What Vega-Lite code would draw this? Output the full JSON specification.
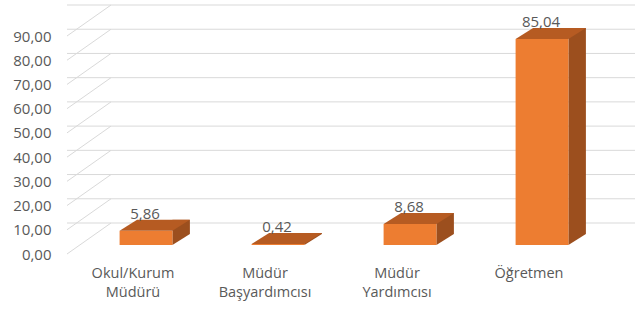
{
  "$schema": "https://vega.github.io/schema/vega-lite/v6.json",
  "width": 528,
  "height": 218,
  "autosize": {"type": "none"},
  "padding": {"left": 67, "top": 36, "right": 40, "bottom": 56},
  "config": {
    "view": {"stroke": null},
    "font": "Open Sans",
    "locale": {"number": {"decimal": ",", "thousands": ".", "grouping": [3], "currency": ["", " ₺"]}},
    "axisY": {"title": null, "domain": false, "ticks": false, "grid": false, "format": ".2f", "tickCount": 10, "labelFont": "Open Sans", "labelFontSize": 15, "labelColor": "#595959", "labelPadding": 16},
    "axisX": {"title": null, "domain": false, "ticks": false, "grid": false, "labelAngle": 0, "labelFont": "Open Sans", "labelFontSize": 14.5, "labelColor": "#595959", "labelPadding": 12, "labelLineHeight": 19}
  },
  "datasets": {
    "kadro": [
      {"kategori": "Okul/Kurum Müdürü", "yuzde": 5.86},
      {"kategori": "Müdür Başyardımcısı", "yuzde": 0.42},
      {"kategori": "Müdür Yardımcısı", "yuzde": 8.68},
      {"kategori": "Öğretmen", "yuzde": 85.04}
    ],
    "izgara": [
      {"deger": 0}, {"deger": 10}, {"deger": 20}, {"deger": 30}, {"deger": 40},
      {"deger": 50}, {"deger": 60}, {"deger": 70}, {"deger": 80}, {"deger": 90}
    ]
  },
  "layer": [
    {
      "data": {"name": "izgara"},
      "mark": {"type": "rule", "y2Offset": -31, "color": "#D9D9D9", "strokeWidth": 1},
      "encoding": {
        "x": {"value": 0},
        "x2": {"value": 44},
        "y": {"field": "deger", "type": "quantitative", "scale": {"domain": [0, 90], "nice": false}},
        "y2": {"field": "deger"}
      }
    },
    {
      "data": {"name": "izgara"},
      "mark": {"type": "rule", "xOffset": 44, "x2Offset": 44, "yOffset": -31, "color": "#D9D9D9", "strokeWidth": 1},
      "encoding": {
        "y": {"field": "deger", "type": "quantitative"}
      }
    },
    {
      "data": {"name": "kadro"},
      "layer": [
        {
          "mark": {"type": "bar", "color": "#9C4F1E", "width": 17.5, "xOffset": 48.15, "yOffset": -20, "y2Offset": -20},
          "encoding": {
            "x": {"field": "kategori", "type": "nominal", "sort": null, "scale": {"paddingInner": 0.6, "paddingOuter": 0.3}, "axis": {"labelExpr": "split(datum.label, ' ')"}},
            "y": {"field": "yuzde", "type": "quantitative"}
          }
        },
        {
          "mark": {"type": "point", "filled": true, "opacity": 1, "size": 4, "strokeWidth": 0, "color": "#9C4F1E", "shape": "M26.4,0L26.4,-11L43.9,-11Z", "xOffset": 13, "yOffset": -9},
          "encoding": {
            "x": {"field": "kategori", "type": "nominal", "sort": null},
            "y": {"datum": 0, "type": "quantitative"}
          }
        },
        {
          "mark": {"type": "bar", "color": "#ED7D31", "xOffset": 13, "x2Offset": 13, "yOffset": -9, "y2Offset": -9},
          "encoding": {
            "x": {"field": "kategori", "type": "nominal", "sort": null},
            "y": {"field": "yuzde", "type": "quantitative"}
          }
        },
        {
          "mark": {"type": "point", "filled": true, "opacity": 1, "size": 4, "strokeWidth": 0, "color": "#B65B22", "shape": "M-26.4,0L26.4,0L43.9,-11L-8.9,-11Z", "xOffset": 13, "yOffset": -9},
          "encoding": {
            "x": {"field": "kategori", "type": "nominal", "sort": null},
            "y": {"field": "yuzde", "type": "quantitative"}
          }
        },
        {
          "mark": {"type": "text", "font": "Open Sans", "fontSize": 15, "color": "#595959", "baseline": "middle", "align": "center", "xOffset": 12, "yOffset": -26},
          "encoding": {
            "x": {"field": "kategori", "type": "nominal", "sort": null},
            "y": {"field": "yuzde", "type": "quantitative"},
            "text": {"field": "yuzde", "type": "quantitative", "format": ".2f"}
          }
        }
      ]
    }
  ]
}
